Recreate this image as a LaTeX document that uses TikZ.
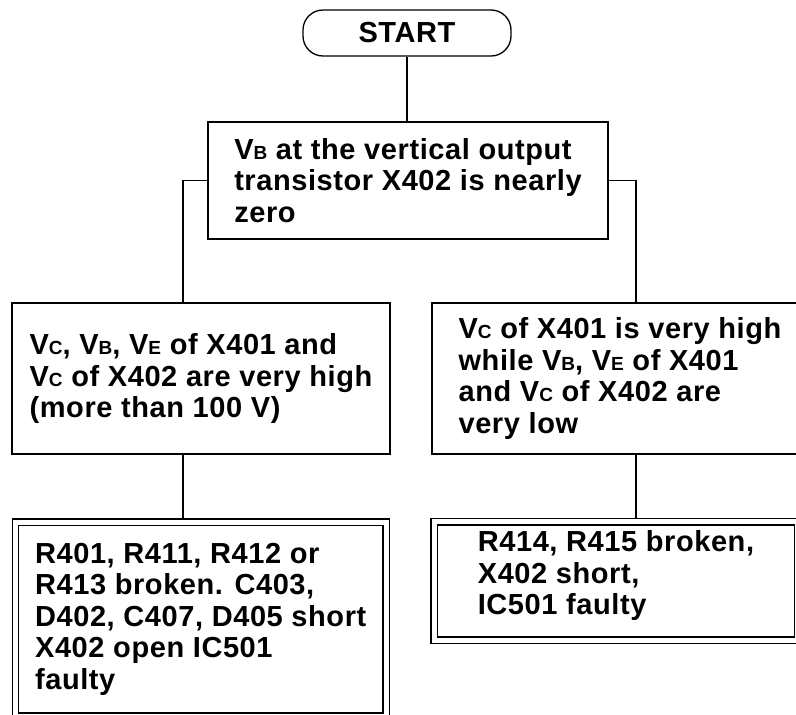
\documentclass[tikz,border=0pt]{standalone}
\usepackage{fontspec}
\setmainfont{Liberation Sans}[LetterSpace=2]
\newcommand{\lo}[1]{{\fontsize{19}{19}\selectfont #1}}
\begin{document}
\begin{tikzpicture}[x=1pt,y=-1pt]
        \tikzstyle{box}=[draw, line width=1.3pt, align=left, inner sep=0pt, font=\fontsize{29}{31.5}\selectfont\bfseries]
        \tikzstyle{result}=[box, double, double distance=5pt]
        \tikzstyle{wire}=[line width=1.3pt]

        \useasboundingbox (0,0) rectangle (796,715);

        \node[box, rounded corners=20pt, minimum width=208pt, minimum height=46pt] (start) at (407,33) {START};
        \node[box, minimum width=400pt, minimum height=117pt] (top) at (408,180.5) {V\lo{B} at the vertical output\\transistor X402 is nearly\\zero};
        \node[box, minimum width=378pt, minimum height=151pt] (left) at (201,378.5) {V\lo{C}, V\lo{B}, V\lo{E} of X401 and\\V\lo{C} of X402 are very high\\(more than 100 V)};
        \node[box, minimum width=376pt, minimum height=151pt] (right) at (620,378.5) {V\lo{C} of X401 is very high\\while V\lo{B}, V\lo{E} of X401\\and V\lo{C} of X402 are\\very low};
        \node[result, minimum width=370.5pt, minimum height=194pt] (leftres) at (200.75,619) {R401, R411, R412 or\\R413 broken. C403,\\D402, C407, D405 short\\X402 open IC501\\faulty};
        \node[result, minimum width=363.5pt, minimum height=118.5pt, text depth=17pt] (rightres) at (616,581) {R414, R415 broken,\\X402 short,\\IC501 faulty};

        \coordinate (lcol) at (183,0);
        \coordinate (rcol) at (636,0);

        \draw[wire] (start.south) -- (start.south |- top.north);
        \draw[wire] (top.west) -| (lcol |- left.north);
        \draw[wire] (top.east) -| (rcol |- right.north);
        \draw[wire, shorten >=3.25pt] (lcol |- left.south) -- (lcol |- leftres.north);
        \draw[wire, shorten >=3.25pt] (rcol |- right.south) -- (rcol |- rightres.north);
    \end{tikzpicture}
\end{document}
